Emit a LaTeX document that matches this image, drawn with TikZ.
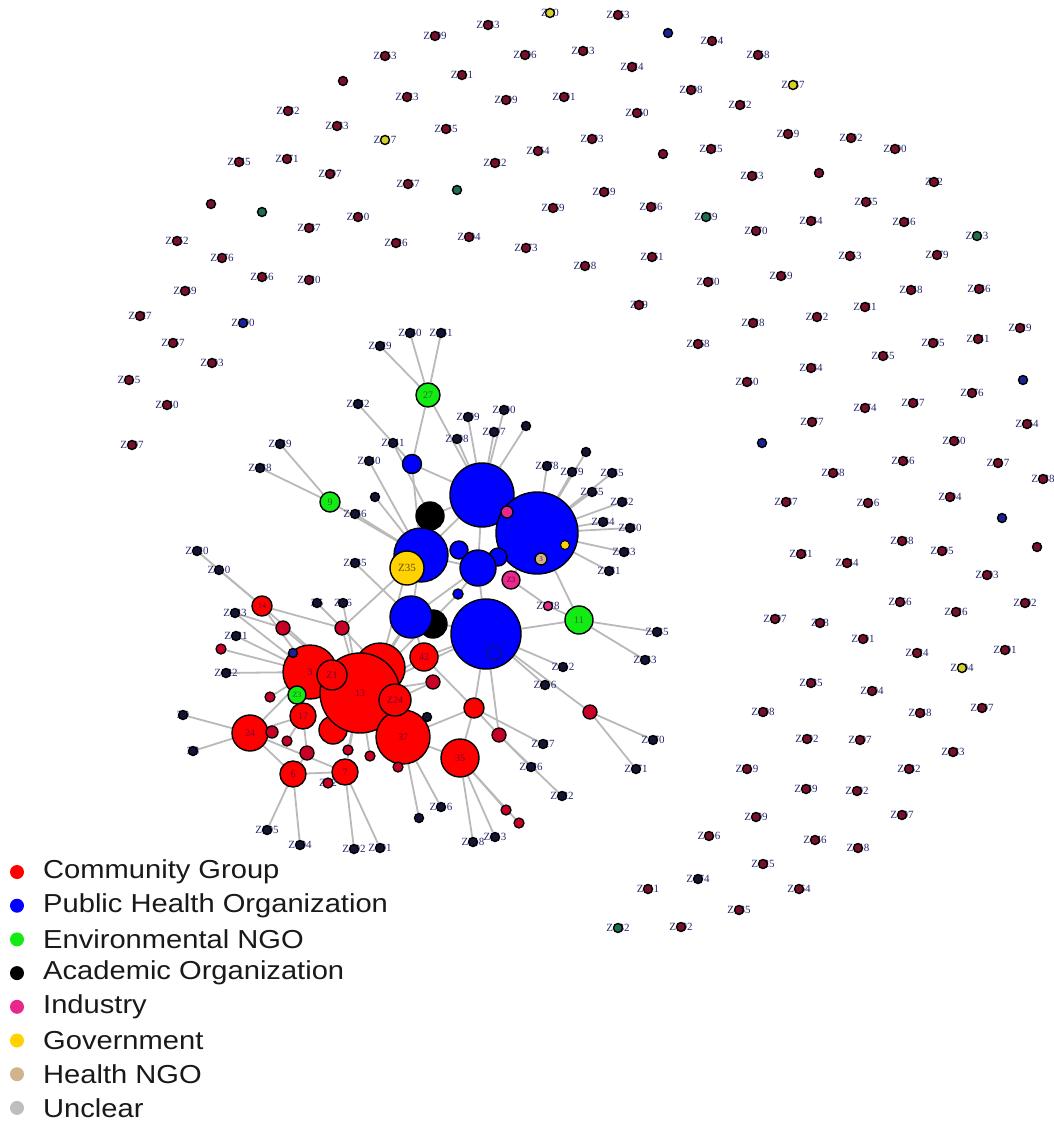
\documentclass[tikz,border=0pt]{standalone}
\usepackage{fontspec}
\setmainfont{Liberation Serif}
\newfontfamily\legendfont{Liberation Sans}
\pgfdeclarelayer{bg}
\pgfsetlayers{bg,main}

% palette
\definecolor{edgegray}{RGB}{185,185,185}
\definecolor{cred}{RGB}{255,0,0}
\definecolor{credd}{RGB}{200,0,40}
\definecolor{cblue}{RGB}{0,0,255}
\definecolor{cgreen}{RGB}{20,235,20}
\definecolor{cpink}{RGB}{232,40,140}
\definecolor{cgold}{RGB}{255,210,0}
\definecolor{ctan}{RGB}{210,180,140}
\definecolor{cgrey}{RGB}{190,190,190}
\definecolor{dm}{RGB}{120,15,45}
\definecolor{db}{RGB}{25,35,150}
\definecolor{dg}{RGB}{30,110,80}
\definecolor{dy}{RGB}{210,210,40}
\definecolor{dk}{RGB}{20,20,55}
\definecolor{lblink}{RGB}{40,40,110}
\definecolor{redtxt}{RGB}{120,0,50}
\definecolor{greentxt}{RGB}{20,110,20}
\definecolor{goldtxt}{RGB}{100,80,10}

\tikzset{
  link/.style={draw=edgegray, line width=1.8pt},
  vtx/.style={circle, draw=black, line width=1.4pt, inner sep=0pt,
    minimum size=#1, font=\fontsize{10}{10}\selectfont, text=redtxt},
  leafdot/.style={circle, draw=black, line width=1.4pt, inner sep=0pt,
    minimum size=9pt, fill=#1},
  lbl/.style={inner sep=0pt, text=lblink, font=\fontsize{11}{11}\selectfont},
  keydot/.style={circle, inner sep=0pt, minimum size=14pt, fill=#1},
  keytext/.style={anchor=west, inner sep=0pt, text={rgb,255:red,25;green,25;blue,25},
    font=\legendfont\fontsize{26}{26}\selectfont},
}

\begin{document}
\begin{tikzpicture}[x=1pt,y=-1pt]
\useasboundingbox (0,0) rectangle (1054,1124);

% ---------- isolated organisations (outer ring) ----------
\foreach \x/\y/\t/\c [count=\i] in {
 435/36/Z109/dm, 385/56/Z153/dm, 343/81/{}/dm, 407/97/Z123/dm, 288/111/Z132/dm,
 337/126/Z183/dm, 446/129/Z135/dm, 385/140/Z117/dy, 239/162/Z145/dm, 287/159/Z171/dm,
 330/174/Z197/dm, 408/184/Z167/dm, 457/190/{}/dg, 211/204/{}/dm, 262/212/{}/dg,
 358/217/Z110/dm, 309/228/Z187/dm, 177/241/Z152/dm, 396/243/Z126/dm, 222/258/Z176/dm,
 262/277/Z156/dm, 309/280/Z120/dm, 185/291/Z139/dm, 140/316/Z127/dm, 243/323/Z190/db,
 173/343/Z157/dm, 212/363/Z103/dm, 129/380/Z115/dm, 167/405/Z140/dm, 132/445/Z107/dm,
 550/13/Z10/dy, 488/25/Z133/dm, 618/15/Z163/dm, 668/33/{}/db, 712/41/Z114/dm,
 758/55/Z158/dm, 525/55/Z106/dm, 583/51/Z143/dm, 632/67/Z124/dm, 462/75/Z111/dm,
 793/85/Z137/dy, 691/90/Z108/dm, 740/105/Z142/dm, 506/100/Z199/dm, 564/97/Z101/dm,
 637/113/Z160/dm, 788/134/Z119/dm, 592/139/Z193/dm, 663/154/{}/dm, 711/149/Z125/dm,
 538/151/Z164/dm, 495/163/Z122/dm, 752/176/Z183/dm, 604/192/Z149/dm, 553/208/Z169/dm,
 651/207/Z186/dm, 706/217/Z189/dg, 756/231/Z170/dm, 469/237/Z104/dm, 526/248/Z173/dm,
 652/257/Z161/dm, 585/266/Z118/dm, 708/282/Z180/dm, 781/276/Z159/dm, 639/305/Z19/dm,
 753/323/Z128/dm,
 851/138/Z102/dm, 895/149/Z100/dm, 819/173/{}/dm, 934/182/Z12/dm, 866/202/Z165/dm,
 811/221/Z134/dm, 904/222/Z146/dm, 977/236/Z113/dg, 850/256/Z153/dm, 937/255/Z179/dm,
 911/290/Z148/dm, 979/289/Z136/dm, 865/307/Z121/dm, 817/317/Z112/dm, 1020/328/Z129/dm,
 978/339/Z141/dm, 933/343/Z105/dm, 883/356/Z155/dm, 811/368/Z184/dm, 1023/380/{}/db,
 972/393/Z176/dm, 913/403/Z147/dm, 865/408/Z174/dm, 812/422/Z177/dm, 1027/424/Z154/dm,
 698/344/Z168/dm, 747/382/Z150/dm, 762/443/{}/db, 954/441/Z160/dm, 903/461/Z156/dm,
 998/463/Z117/dm, 833/473/Z168/dm, 1043/479/Z138/dm, 786/502/Z187/dm, 868/503/Z116/dm,
 950/497/Z194/dm, 1002/518/{}/db, 902/541/Z138/dm, 942/551/Z195/dm, 1037/547/{}/dm,
 801/554/Z181/dm, 847/563/Z144/dm, 987/575/Z103/dm, 900/602/Z166/dm, 956/612/Z126/dm,
 1025/603/Z102/dm, 775/619/Z107/dm, 820/623/Z18/dm, 863/639/Z101/dm,
 917/653/Z124/dm, 1005/650/Z101/dm, 962/668/Z104/dy, 811/683/Z185/dm, 872/691/Z104/dm,
 763/712/Z108/dm, 920/713/Z148/dm, 982/708/Z107/dm, 807/739/Z192/dm, 860/740/Z197/dm,
 953/752/Z183/dm, 747/769/Z119/dm, 909/769/Z132/dm, 806/789/Z139/dm, 857/791/Z102/dm,
 756/817/Z109/dm, 902/815/Z107/dm, 709/836/Z116/dm, 815/840/Z146/dm, 858/848/Z118/dm,
 763/864/Z125/dm, 698/879/Z174/dk, 648/889/Z111/dm, 799/889/Z164/dm, 739/910/Z135/dm,
 681/927/Z102/dm, 618/928/Z132/dg}{
  \node[lbl] (ot\i) at (\x,\y) {\t};
  \node[leafdot=\c] (o\i) at (\x,\y) {};
}

% ---------- connected component: public health hubs ----------
\node[vtx=64pt, fill=cblue] (bA) at (482,495) {};
\node[vtx=82pt, fill=cblue] (bB) at (537,533) {};
\node[vtx=12pt, fill=cpink] (pA) at (507,512) {};
\node[vtx=12pt, fill=ctan, font=\fontsize{7}{7}\selectfont] (t3) at (541,559) {3};
\node[vtx=9pt, fill=cgold, line width=1pt] (ysm) at (565,545) {};
\node[vtx=28pt, fill=black] (kA) at (430,516) {};
\node[vtx=54pt, fill=cblue] (bC) at (421,555) {};
\node[vtx=19pt, fill=cblue] (bS) at (412,464) {};
\node[vtx=18pt, fill=cblue] (bSm) at (459,550) {};
\node[vtx=18pt, fill=cblue] (bE) at (498,557) {};
\node[vtx=36pt, fill=cblue] (bD) at (478,568) {};
\node[vtx=10pt, fill=cblue] (btiny) at (458,594) {};
\node[vtx=34pt, fill=cgold, text=goldtxt, font=\fontsize{11}{11}\selectfont] (yZ35) at (407,568) {Z35};
\node[vtx=18pt, fill=cpink, font=\fontsize{8}{8}\selectfont] (pZ3) at (511,580) {Z3};
\node[vtx=28pt, fill=black] (kB) at (433,624) {};
\node[vtx=42pt, fill=cblue] (bF) at (411,617) {};
\node[vtx=70pt, fill=cblue] (bG) at (486,634) {};
\node[circle, draw={rgb,255:red,20;green,20;blue,90}, line width=1pt, fill=cblue, minimum size=14pt, inner sep=0pt] (bring) at (494,653) {};

% environmental NGOs
\node[vtx=24pt, fill=cgreen, text=greentxt] (g27) at (428,395) {27};
\node[vtx=20pt, fill=cgreen, text=greentxt] (g9) at (330,502) {9};
\node[vtx=28pt, fill=cgreen, text=greentxt] (g11) at (579,620) {11};

% ---------- community groups ----------
\node[vtx=50pt, fill=cred] (r5) at (380,668) {5};
\node[vtx=54pt, fill=cred] (r3) at (310,672) {3};
\node[vtx=28pt, fill=cred] (r333) at (333,730) {};
\node[vtx=80pt, fill=cred] (r13) at (360,693) {13};
\node[vtx=54pt, fill=cred] (r37) at (403,737) {37};
\node[vtx=30pt, fill=cred] (rZ1) at (332,675) {Z1};
\node[vtx=32pt, fill=cred] (rZ24) at (395,700) {Z24};
\node[vtx=18pt, fill=cgreen, text=greentxt, font=\fontsize{8}{8}\selectfont] (gZ3) at (297,695) {Z3};
\node[vtx=26pt, fill=cred] (r17) at (303,716) {17};
\node[vtx=36pt, fill=cred] (r24) at (250,733) {24};
\node[vtx=26pt, fill=cred] (r6) at (293,774) {6};
\node[vtx=26pt, fill=cred] (r7) at (345,772) {7};
\node[vtx=38pt, fill=cred] (r35) at (460,758) {35};
\node[vtx=28pt, fill=cred] (r42) at (424,657) {42};
\node[vtx=20pt, fill=cred, font=\fontsize{8}{8}\selectfont] (r14) at (262,606) {14};
\node[vtx=20pt, fill=cred] (r474) at (474,708) {};
\node[lbl] (tr328) at (328,783) {Z12};
\foreach \n/\x/\y/\d in {r283/283/628/14, r342/342/628/14, r433/433/682/14,
  r590/590/712/14, r499/499/735/14, r307/307/753/14, rtiny/221/649/10,
  r270/270/697/10, r272/272/732/12, r287/287/741/10, r348/348/750/10,
  r370/370/756/10, r398/398/767/10, r328/328/783/10, r506/506/810/10,
  r519/519/823/10}{
  \node[vtx=\d pt, fill=credd, line width=1.3pt] (\n) at (\x,\y) {};
}

% ---------- leaves of the connected component ----------
\foreach \n/\x/\y/\t in {
 l1/410/333/Z130, l2/441/333/Z131, l3/380/346/Z129, l4/358/404/Z142, l5/393/443/Z141,
 l6/369/461/Z140, l7/280/444/Z139, l8/260/468/Z138, l9/375/497/{}, l10/355/514/Z136,
 l11/355/563/Z135, l12/468/417/Z109, l13/504/410/Z100, l14/526/426/{}, l15/457/439/Z108,
 l16/494/432/Z107, l17/547/466/Z178, l18/572/472/Z179, l19/586/452/{}, l20/612/473/Z185,
 l21/592/492/Z165, l22/622/502/Z182, l23/603/522/Z184, l24/630/528/Z180, l25/624/552/Z183,
 l26/609/571/Z181, l28/657/632/Z135, l29/645/660/Z133, l30/563/667/Z112, l31/545/685/Z116,
 l32/653/740/Z170, l33/636/769/Z171, l34/543/744/Z127, l35/531/767/Z126, l36/562/796/Z122,
 l37/473/842/Z118, l38/495/837/Z113, l39/441/807/Z116, l40/419/818/{}, l41/197/551/Z120,
 l42/219/570/Z110, l43/235/613/Z123, l44/317/603/Z6, l45/343/603/Z66, l46/236/636/Z121,
 l48/226/673/Z122, l49/183/715/Z9, l50/193/751/Z8, l51/267/830/Z105, l52/300/845/Z104,
 l53/354/849/Z102, l54/380/848/Z101, l55/427/717/{}}{
  \node[lbl] (t\n) at (\x,\y) {\t};
  \node[leafdot=dk] (\n) at (\x,\y) {};
}
\node[lbl] (tl27) at (548,606) {Z128};
\node[leafdot=cpink] (l27) at (548,606) {};
\node[leafdot=db] (l47) at (293,653) {};

% ---------- ties ----------
\begin{pgfonlayer}{bg}
\fill[white] (0,0) rectangle (1054,1124);
\foreach \a/\b in {
 g27/l1, g27/l2, g27/l3, g27/bS, g27/bA,
 bS/l4, bS/bA, bS/bC, l5/kA, l6/bC, l9/bC, l10/bC, g9/bC, g9/l7, g9/l8, l11/bF,
 bA/l12, bA/l13, bA/l14, bA/l15, bA/l16,
 bB/l17, bB/l18, bB/l19, bB/l20, bB/l21, bB/l22, bB/l23, bB/l24, bB/l25, bB/l26,
 bA/bB, bA/bD, bA/bC, bB/bD, bB/g11, bB/pZ3, kA/bC, kA/bA, bC/yZ35, bC/bSm,
 bC/bF, bC/bD, bSm/bD, bD/bG, bD/bF,
 pZ3/l27, l27/g11, g11/l28, g11/l29, g11/bG,
 bG/l30, bG/l31, bG/r590, r590/l32, r590/l33, bG/r474, bG/r42, bG/bF, bG/r13, bG/r499,
 bF/kB, bF/r5, bF/r42, bF/r13,
 yZ35/r342, yZ35/r5, r14/r13, r14/l41, r14/l42, r14/r3, r14/r342,
 l43/r3, l43/r283, l46/r3, rtiny/r3, l48/r3, r283/r13,
 l44/r342, l45/r13, r342/r13, r342/r5,
 r24/l49, r24/l50, r24/r3, r24/r17, r24/r6, r24/r272, r24/r7,
 r6/l51, r6/l52, r6/r307, r7/l53, r7/l54, r7/r13, r7/r6,
 r13/r37, r13/r433, r13/r42, r13/r348, r13/r370,
 r42/r474, r474/l34, r474/r499, r474/r35, r474/r37,
 r499/l35, r499/l36, r35/l37, r35/l38, r35/r506, r35/r519, r35/r37,
 r37/l39, r37/l40, r37/rZ24, r37/r398, r37/l55,
 gZ3/r3, gZ3/r17, r17/r307, r17/r287, rZ24/r433, r328/r7, r270/r3, l47/r3,
 btiny/r13, btiny/bD}{
  \draw[link] (\a) -- (\b);
}
\end{pgfonlayer}

% ---------- key ----------
\foreach \c/\t [count=\i] in {cred/Community Group, cblue/Public Health Organization,
  cgreen/Environmental NGO, black/Academic Organization, cpink/Industry,
  cgold/Government, ctan/Health NGO, cgrey/Unclear}{
  \node[keydot=\c] (lb\i) at (17,{872+33.7*(\i-1)}) {};
  \node[keytext] (lg\i) at (43,{872+33.7*(\i-1)}) {\scalebox{1.12}[1]{\t}};
}
\end{tikzpicture}
\end{document}
